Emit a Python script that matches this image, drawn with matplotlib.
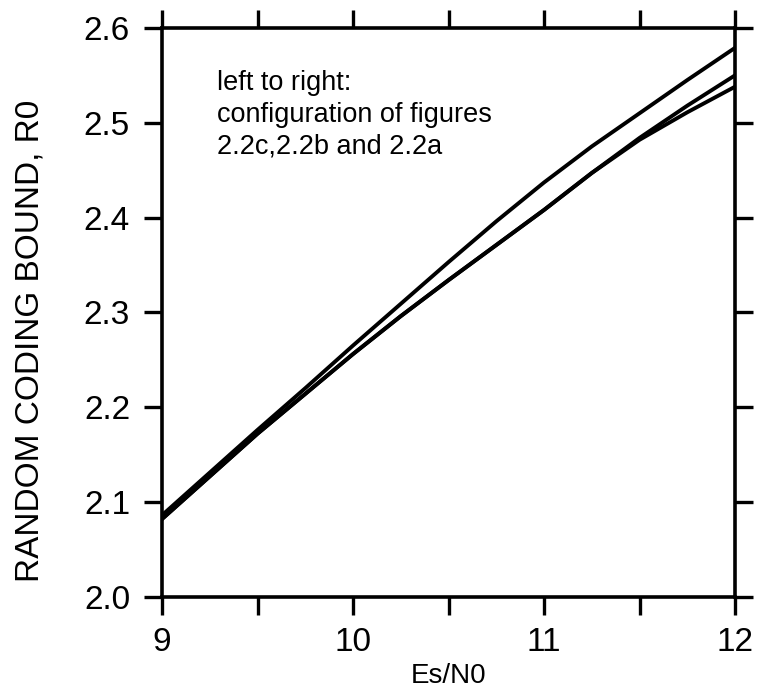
import matplotlib
matplotlib.use("Agg")
import matplotlib.pyplot as plt
from matplotlib.ticker import MultipleLocator

# Es/N0 grid (dB) and R0 for the three signal configurations
es_n0 = [9.0, 9.25, 9.5, 9.75, 10.0, 10.25, 10.5, 10.75, 11.0, 11.25, 11.5, 11.75, 12.0]
r0_fig_c = [2.086, 2.131, 2.176, 2.220, 2.265, 2.309, 2.353, 2.396, 2.437, 2.475, 2.510, 2.545, 2.579]
r0_fig_b = [2.082, 2.127, 2.172, 2.214, 2.256, 2.296, 2.334, 2.371, 2.408, 2.447, 2.484, 2.518, 2.550]
r0_fig_a = [2.082, 2.127, 2.172, 2.214, 2.256, 2.296, 2.334, 2.371, 2.408, 2.447, 2.482, 2.511, 2.538]

x_ticks = [9, 10, 11, 12]
y_ticks = [2.0, 2.1, 2.2, 2.3, 2.4, 2.5, 2.6]

fig = plt.figure(figsize=(7.57, 6.98), dpi=100)
ax = fig.add_axes([0.214, 0.145, 0.757, 0.815])

for r0 in (r0_fig_c, r0_fig_b, r0_fig_a):
    ax.plot(es_n0, r0, color="black", lw=2.8, solid_joinstyle="round")

ax.set_xlim(9, 12)
ax.set_ylim(2.0, 2.6)
ax.set_xticks(x_ticks)
ax.set_xticklabels([str(v) for v in x_ticks])
ax.set_yticks(y_ticks)
ax.set_yticklabels([f"{v:.1f}" for v in y_ticks])
ax.xaxis.set_minor_locator(MultipleLocator(0.5))

for side in ax.spines.values():
    side.set_linewidth(2.6)

ax.tick_params(which="both", direction="out", length=13, width=2.4,
               top=True, right=True, labeltop=False, labelright=False)
ax.tick_params(axis="x", which="major", pad=9)
ax.tick_params(axis="y", which="major", pad=10)
for lab in ax.get_xticklabels() + ax.get_yticklabels():
    lab.set_fontfamily("Liberation Sans")
    lab.set_fontsize(24)

ax.set_xlabel("Es/N0", fontsize=20, family="Liberation Sans", labelpad=3)
ax.set_ylabel("RANDOM CODING BOUND, R0", fontsize=24, family="Liberation Sans")
ax.yaxis.set_label_coords(-0.203, 0.45)

ax.text(9.29, 2.556, "left to right:\nconfiguration of figures\n2.2c,2.2b and 2.2a",
        fontsize=19.5, family="Liberation Sans", va="top", ha="left", linespacing=1.3)

fig.savefig("out.png", dpi=100)
